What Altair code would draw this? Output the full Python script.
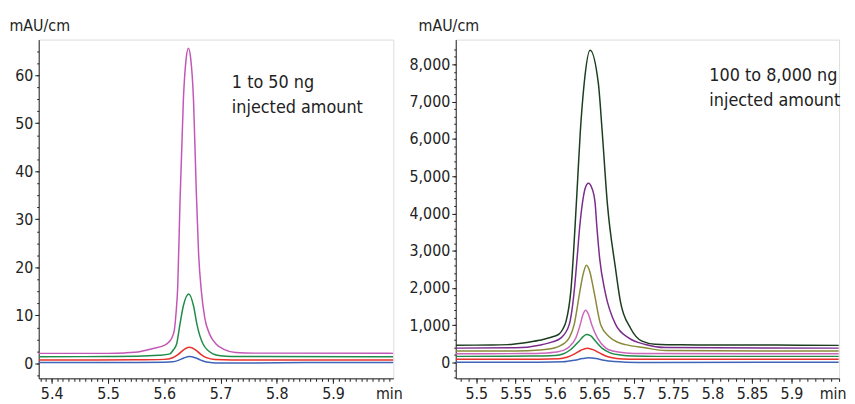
import altair as alt
import pandas as pd

FONT = "DejaVu Sans Condensed, DejaVu Sans, sans-serif"

# ---------------- Left panel (1 to 50 ng) ----------------
L_blue_t = [5.377, 5.55, 5.60, 5.615, 5.625, 5.635, 5.645, 5.655, 5.665, 5.675, 5.69, 5.72, 5.76, 5.85, 6.007]
L_blue_v = [0.2, 0.2, 0.25, 0.35, 0.65, 1.15, 1.44, 1.2, 0.7, 0.3, 0.12, 0.08, 0.12, 0.18, 0.2]

L_red_t = [5.377, 5.55, 5.60, 5.615, 5.625, 5.635, 5.644, 5.655, 5.665, 5.675, 5.69, 5.72, 6.007]
L_red_v = [0.7, 0.75, 0.85, 1.2, 1.9, 2.9, 3.36, 2.9, 1.9, 1.2, 0.8, 0.7, 0.7]

L_green_t = [5.377, 5.50, 5.55, 5.59, 5.61, 5.616, 5.622, 5.628, 5.634, 5.6435, 5.652, 5.658, 5.669, 5.6865, 5.70, 5.72, 6.007]
L_green_v = [1.4, 1.45, 1.5, 1.7, 2.0, 2.8, 4.05, 8.2, 12.0, 14.45, 12.0, 8.2, 4.05, 2.0, 1.6, 1.45, 1.4]

L_mag_t = [5.377, 5.50, 5.53, 5.558, 5.58, 5.600, 5.607, 5.613, 5.618, 5.621, 5.624, 5.628, 5.634,
           5.639, 5.643, 5.647, 5.652, 5.657, 5.661, 5.666, 5.672, 5.681, 5.692, 5.705, 5.727, 5.76, 6.007]
L_mag_v = [2.1, 2.1, 2.2, 2.5, 3.1, 3.75, 4.3, 5.2, 7.0, 10.5, 16, 33.6, 54.9,
           63.5, 65.6, 63.5, 54.9, 35.7, 23, 15, 9.5, 6.0, 4.05, 3.0, 2.3, 2.15, 2.1]

L_names = ["1 ng", "5 ng", "10 ng", "50 ng"]
L_colors = ["#3f63b8", "#e8302c", "#1e8c4a", "#c257b6"]
L_series = [(L_blue_t, L_blue_v), (L_red_t, L_red_v), (L_green_t, L_green_v), (L_mag_t, L_mag_v)]

L_xticks = [5.4, 5.5, 5.6, 5.7, 5.8, 5.9]
L_xminor = [round(5.38 + 0.01 * i, 2) for i in range(63)]
L_yticks = [0, 10, 20, 30, 40, 50, 60]
L_yminor = [-2.5 + 2.5 * i for i in range(28)]
L_xdom = [5.377, 6.007]
L_ydom = [-3.1, 67.4]

# ---------------- Right panel (100 to 8,000 ng) ----------------
R_blue_t = [5.474, 5.58, 5.61, 5.625, 5.635, 5.643, 5.652, 5.662, 5.675, 5.69, 5.72, 5.96]
R_blue_v = [5, 8, 18, 60, 105, 125, 105, 60, 25, 10, 3, 5]

R_red_t = [5.474, 5.58, 5.605, 5.615, 5.625, 5.633, 5.641, 5.649, 5.657, 5.666, 5.678, 5.695, 5.72, 5.96]
R_red_v = [85, 88, 100, 140, 230, 330, 385, 340, 250, 160, 110, 90, 85, 85]

R_green_t = [5.474, 5.57, 5.60, 5.61, 5.62, 5.63, 5.636, 5.640, 5.645, 5.652, 5.66, 5.67, 5.685, 5.70, 5.73, 5.96]
R_green_v = [165, 172, 190, 230, 350, 560, 700, 750, 720, 560, 380, 260, 195, 175, 165, 165]

R_pink_t = [5.474, 5.56, 5.59, 5.605, 5.612, 5.618, 5.6264, 5.632, 5.6355, 5.639, 5.6425, 5.6466,
            5.6538, 5.6642, 5.675, 5.69, 5.71, 5.96]
R_pink_v = [235, 240, 258, 295, 340, 420, 660, 1016, 1290, 1404, 1290, 1016,
            660, 394, 300, 258, 240, 235]

R_olive_t = [5.474, 5.55, 5.58, 5.60, 5.6054, 5.612, 5.618, 5.6243, 5.6315, 5.636, 5.640, 5.644,
             5.6495, 5.658, 5.6684, 5.68, 5.6894, 5.7146, 5.74, 5.96]
R_olive_v = [306, 310, 335, 395, 439, 520, 660, 1016, 1902, 2400, 2612, 2450,
             1902, 1016, 700, 540, 480, 394, 320, 306]

R_purple_t = [5.474, 5.55, 5.58, 5.5965, 5.6076, 5.618, 5.6243, 5.628, 5.6315, 5.6349, 5.6385, 5.6424,
              5.6466, 5.6508, 5.653, 5.6567, 5.6635, 5.677, 5.6935, 5.7146, 5.74, 5.96]
R_purple_v = [386, 395, 465, 553, 660, 1016, 1902, 2788, 3676, 4296, 4690, 4810,
              4690, 4296, 3676, 2788, 1902, 1016, 660, 484, 400, 386]

R_dkgreen_t = [5.474, 5.52, 5.54, 5.56, 5.58, 5.597, 5.605, 5.61, 5.614, 5.62, 5.6277, 5.632, 5.637,
               5.6445, 5.655, 5.66, 5.6663, 5.6768, 5.683, 5.6957, 5.7104, 5.727, 5.76, 5.85, 5.91, 5.96]
R_dkgreen_v = [466, 468, 480, 525, 595, 690, 760, 900, 1104, 1902, 4500, 6157, 7488,
               8380, 7488, 6157, 4296, 2522, 1636, 926, 572, 490, 475, 470, 466, 460]

R_names = ["100 ng", "250 ng", "500 ng", "1,000 ng", "2,000 ng", "4,000 ng", "8,000 ng"]
R_colors = ["#3f63b8", "#e8302c", "#1e8c4a", "#cc66bb", "#8a8a3a", "#7b2c8c", "#1c3d1e"]
R_series = [(R_blue_t, R_blue_v), (R_red_t, R_red_v), (R_green_t, R_green_v), (R_pink_t, R_pink_v),
            (R_olive_t, R_olive_v), (R_purple_t, R_purple_v), (R_dkgreen_t, R_dkgreen_v)]

R_xticks = [5.5, 5.55, 5.6, 5.65, 5.7, 5.75, 5.8, 5.85, 5.9]
R_xminor = [round(5.48 + 0.01 * i, 2) for i in range(49)]
R_yticks = [0, 1000, 2000, 3000, 4000, 5000, 6000, 7000, 8000]
R_yminor = [-400 + 200 * i for i in range(45)]
R_xdom = [5.474, 5.9605]
R_ydom = [-425, 8665]


def make_df(names, series):
    rows = []
    for i, (name, (ts, vs)) in enumerate(zip(names, series)):
        for t, v in zip(ts, vs):
            rows.append({"t": t, "v": v, "series": name, "order": i})
    return pd.DataFrame(rows)


def panel(names, colors, series, xticks, xminor, yticks, yminor, xdom, ydom,
          xfmt, yfmt, w, h, ann_text, ann_x, ann_y, ytitle_x, min_x):
    df = make_df(names, series)
    xs = alt.Scale(domain=xdom, nice=False, zero=False)
    ys = alt.Scale(domain=ydom, nice=False, zero=False)
    major = alt.Chart(df).mark_line(interpolate="monotone", strokeWidth=1.5, clip=True).encode(
        x=alt.X("t:Q", scale=xs, axis=alt.Axis(
            values=xticks, format=xfmt, orient="bottom", grid=False,
            tickSize=5, tickColor="#222", domainColor="#222", labelPadding=2,
            labelFont=FONT, labelFontSize=16, labelColor="#222", labelFlush=False,
            title="min", titleFont=FONT, titleFontSize=16, titleFontWeight="normal",
            titleColor="#222", titleAnchor="end", titleAlign="right",
            titleX=w + min_x, titleY=20, titleBaseline="alphabetic")),
        y=alt.Y("v:Q", scale=ys, axis=alt.Axis(
            values=yticks, format=yfmt, orient="left", grid=False,
            tickSize=4, tickColor="#222", domainColor="#222", labelPadding=2,
            labelFont=FONT, labelFontSize=16, labelColor="#222",
            title="mAU/cm", titleFont=FONT, titleFontSize=16, titleFontWeight="normal",
            titleColor="#222", titleAngle=0, titleAlign="left", titleBaseline="alphabetic",
            titleX=ytitle_x, titleY=-9)),
        color=alt.Color("series:N", scale=alt.Scale(domain=names, range=colors), legend=None),
        order="order:Q",
    )
    minor = alt.Chart(df).mark_line(strokeOpacity=0).encode(
        x=alt.X("t:Q", scale=xs, axis=alt.Axis(
            values=xminor, labels=False, domain=False, grid=False, orient="bottom",
            tickSize=3, tickColor="#222", title=None)),
        y=alt.Y("v:Q", scale=ys, axis=alt.Axis(
            values=yminor, labels=False, domain=False, grid=False, orient="left",
            tickSize=2, tickColor="#222", title=None)),
    )
    ann = alt.Chart(pd.DataFrame({"a": [0]})).mark_text(
        text=ann_text, font=FONT, fontSize=18, color="#222", align="left",
        baseline="alphabetic", lineHeight=25,
    ).encode(x=alt.value(ann_x), y=alt.value(ann_y))
    return alt.layer(major, minor, ann).resolve_axis(x="independent", y="independent").properties(
        width=w, height=h)


left = panel(L_names, L_colors, L_series, L_xticks, L_xminor, L_yticks, L_yminor, L_xdom, L_ydom,
             ".1f", "d", 358, 342, ["1 to 50 ng", "injected amount"], 195, 49, -30, 9)
right = panel(R_names, R_colors, R_series, R_xticks, R_xminor, R_yticks, R_yminor, R_xdom, R_ydom,
              "~g", ",d", 387, 342, ["100 to 8,000 ng", "injected amount"], 256, 42, -38, 7)

chart = alt.hconcat(left, right, spacing=63, bounds="flush").resolve_scale(
    color="independent"
).properties(
    padding={"left": 0, "top": 7, "right": 0, "bottom": 0}
).configure_view(stroke=None).configure(background="white")

chart.save("out.html", embed_options={"renderer": "svg", "actions": False})
